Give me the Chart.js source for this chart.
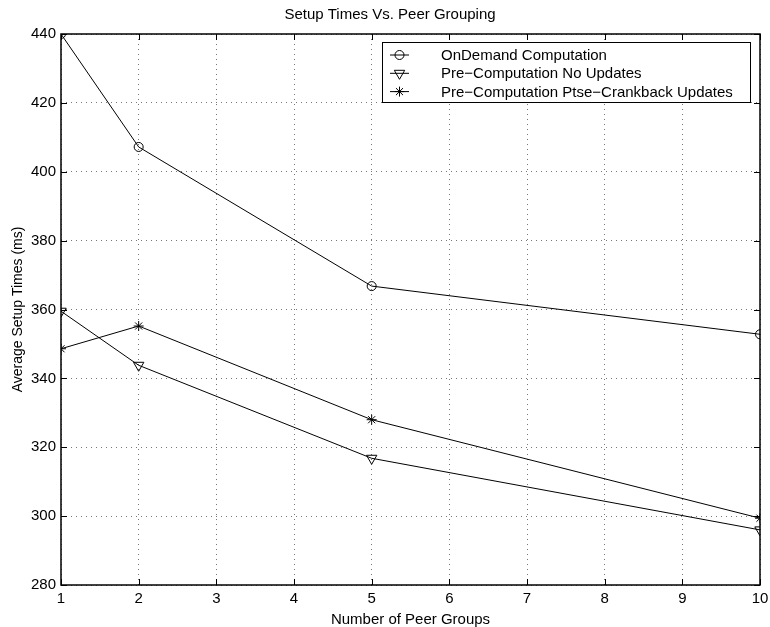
<!DOCTYPE html>
<html lang="en">
<head>
<meta charset="UTF-8">
<title>Setup Times Vs. Peer Grouping</title>
<style>
    body { margin: 0; background: #fff; }
    #wrap { width: 770px; height: 627px; }
</style>
</head>
<body>
<div id="wrap"><canvas id="setupChart" width="770" height="627"></canvas></div>
<script src="https://cdn.jsdelivr.net/npm/chart.js"></script>
<script>
    const peerGroups = [1, 2, 5, 10];
    const onDemand = [440, 407.2, 366.8, 352.8];
    const preNoUpdates = [359.5, 343.8, 316.8, 296];
    const preCrankback = [348.6, 355.2, 328, 299.4];
    const seriesNames = ['OnDemand Computation', 'Pre\u2212Computation No Updates', 'Pre\u2212Computation Ptse\u2212Crankback Updates'];
    const yTicks = [280, 300, 320, 340, 360, 380, 400, 420, 440];

    const fam = 'Liberation Sans, Arial, sans-serif';
    const font = { family: fam, size: 15, weight: 'normal' };
    const tightFont = { family: fam, size: 15, weight: 'normal', lineHeight: 1 };

    function toPoints(vals) {
        return peerGroups.map((x, i) => ({ x: x, y: vals[i] }));
    }

    // inward tick marks on all four sides + box
    const boxTicks = {
        id: 'boxTicks',
        afterDraw(chart) {
            const { ctx, chartArea: a, scales } = chart;
            ctx.save();
            ctx.strokeStyle = '#000';
            ctx.lineWidth = 1;
            ctx.beginPath();
            scales.x.ticks.forEach(t => {
                const px = Math.round(scales.x.getPixelForValue(t.value)) + 0.5;
                ctx.moveTo(px, a.bottom); ctx.lineTo(px, a.bottom - 6);
                ctx.moveTo(px, a.top); ctx.lineTo(px, a.top + 6);
            });
            scales.y.ticks.forEach(t => {
                const py = Math.round(scales.y.getPixelForValue(t.value)) + 0.5;
                ctx.moveTo(a.left, py); ctx.lineTo(a.left + 6, py);
                ctx.moveTo(a.right, py); ctx.lineTo(a.right - 6, py);
            });
            ctx.stroke();
            ctx.lineWidth = 1.5;
            ctx.strokeRect(a.left, a.top, a.right - a.left, a.bottom - a.top);
            ctx.restore();
        }
    };

    // legend box inside plot, top right
    const boxLegend = {
        id: 'boxLegend',
        afterDraw(chart) {
            const { ctx } = chart;
            const x0 = 382, y0 = 42, w = 368, h = 60;
            ctx.save();
            ctx.fillStyle = '#fff';
            ctx.fillRect(x0, y0, w, h);
            ctx.strokeStyle = '#000';
            ctx.lineWidth = 1;
            ctx.strokeRect(x0 + 0.5, y0 + 0.5, w, h);
            ctx.font = '15px ' + fam;
            ctx.textBaseline = 'middle';
            chart.data.datasets.forEach((ds, i) => {
                const cy = y0 + 13 + i * 18.3;
                ctx.strokeStyle = '#000';
                ctx.lineWidth = 1;
                ctx.beginPath();
                ctx.moveTo(x0 + 8, cy); ctx.lineTo(x0 + 27, cy);
                ctx.stroke();
                ctx.fillStyle = 'rgba(0,0,0,0)';
                Chart.helpers.drawPoint(ctx, {
                    pointStyle: ds.pointStyle, radius: ds.pointRadius,
                    rotation: ds.pointRotation || 0, borderWidth: 1
                }, x0 + 17.5, cy);
                ctx.fillStyle = '#000';
                ctx.fillText(ds.label, x0 + 59, cy + 1);
            });
            ctx.restore();
        }
    };

    const lineStyle = {
        borderColor: '#000',
        borderWidth: 1,
        pointBorderColor: '#000',
        pointBackgroundColor: 'rgba(0,0,0,0)',
        pointBorderWidth: 1,
        tension: 0
    };

    new Chart(document.getElementById('setupChart'), {
        type: 'line',
        data: {
            datasets: [
                Object.assign({ label: seriesNames[0], data: toPoints(onDemand), pointStyle: 'circle', pointRadius: 4.5 }, lineStyle),
                Object.assign({ label: seriesNames[1], data: toPoints(preNoUpdates), pointStyle: 'triangle', pointRotation: 180, pointRadius: 6 }, lineStyle),
                Object.assign({ label: seriesNames[2], data: toPoints(preCrankback), pointStyle: 'star', pointRadius: 5 }, lineStyle)
            ]
        },
        options: {
            responsive: false,
            animation: false,
            layout: { padding: { top: 0, right: 0, bottom: 0, left: 10 } },
            scales: {
                x: {
                    type: 'linear', min: 1, max: 10,
                    ticks: { stepSize: 1, color: '#000', font: tightFont, padding: 6 },
                    grid: { color: '#777', drawTicks: false, tickLength: 0 },
                    border: { display: false, dash: [1, 4] },
                    title: { display: true, text: 'Number of Peer Groups', color: '#000', font: tightFont, padding: { top: 0, bottom: 0 } },
                    afterFit(axis) { axis.paddingRight = 10; axis.paddingLeft = 0; }
                },
                y: {
                    min: 280, max: 440,
                    afterBuildTicks(axis) { axis.ticks = yTicks.map(v => ({ value: v })); },
                    ticks: { color: '#000', font: font, padding: 5 },
                    grid: { color: '#777', drawTicks: false, tickLength: 0 },
                    border: { display: false, dash: [1, 4] },
                    title: { display: true, text: 'Average Setup Times (ms)', color: '#000', font: { family: fam, size: 14 }, padding: { top: 0, bottom: 2 } },
                    afterFit(axis) { axis.width = 51; }
                }
            },
            plugins: {
                legend: { display: false },
                tooltip: { enabled: false },
                title: { display: true, text: 'Setup Times Vs. Peer Grouping', color: '#000', font: font, padding: { top: 6, bottom: 10 } }
            }
        },
        plugins: [boxTicks, boxLegend]
    });
</script>
</body>
</html>
